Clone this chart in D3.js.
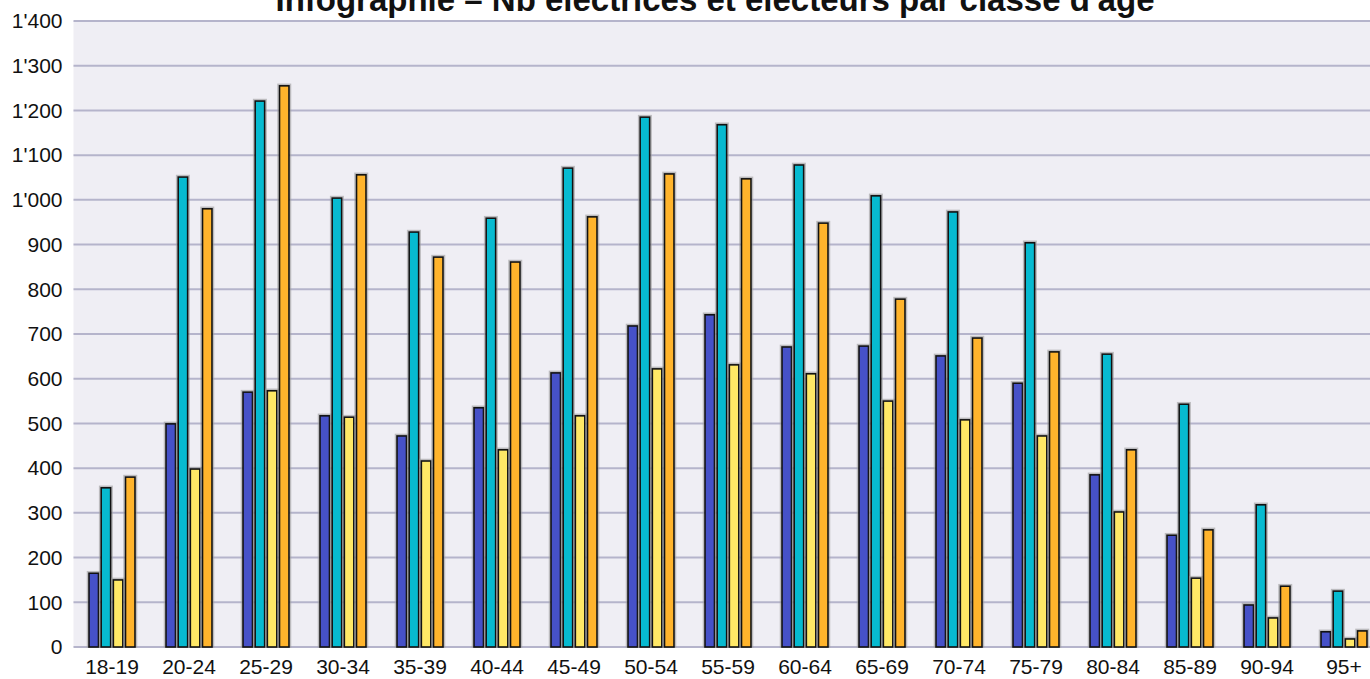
<!DOCTYPE html>
<html>
<head>
<meta charset="utf-8">
<script src="https://cdn.jsdelivr.net/npm/d3@7"></script>
<style>
  body { margin: 0; background: #ffffff; overflow: hidden; }
  svg { display: block; }
</style>
</head>
<body>
<svg id="chart"></svg>
<script>
const ageClasses = ["18-19", "20-24", "25-29", "30-34", "35-39", "40-44", "45-49", "50-54", "55-59",
    "60-64", "65-69", "70-74", "75-79", "80-84", "85-89", "90-94", "95+"];

const seriesBlue   = [165, 499, 570, 517, 472, 535, 613, 718, 743, 671, 673, 651, 590, 385, 250, 94, 34];
const seriesCyan   = [356, 1051, 1221, 1004, 928, 959, 1071, 1185, 1168, 1078, 1009, 973, 904, 655, 543, 318, 125];
const seriesYellow = [150, 398, 573, 514, 416, 441, 517, 622, 631, 611, 550, 508, 472, 302, 154, 65, 18];
const seriesOrange = [380, 980, 1255, 1056, 872, 861, 962, 1058, 1047, 948, 778, 691, 660, 441, 262, 136, 36];

const yTicks = [0, 100, 200, 300, 400, 500, 600, 700, 800, 900, 1000, 1100, 1200, 1300, 1400];

const titleText = "Infographie – Nb électrices et électeurs par classe d'âge";

const width = 1370;
const height = 679;
const margin = { top: 21, left: 73.5, bottom: 32 };
const bandStep = 77;

const svg = d3.select("#chart")
    .attr("width", width)
    .attr("height", height);

const series = [
    { key: "blue", values: seriesBlue, color: "#4651c8" },
    { key: "cyan", values: seriesCyan, color: "#07bad0" },
    { key: "yellow", values: seriesYellow, color: "#ffe866" },
    { key: "orange", values: seriesOrange, color: "#ffb42c" }
];

const x = d3.scaleBand()
    .domain(ageClasses)
    .range([margin.left, margin.left + bandStep * ageClasses.length])
    .paddingInner(0)
    .paddingOuter(0);

const xSub = d3.scaleBand()
    .domain(series.map(s => s.key))
    .range([x.bandwidth() / 2 - 23, x.bandwidth() / 2 + 23])
    .paddingInner(0.22);

const y = d3.scaleLinear()
    .domain([0, 1400])
    .range([647, margin.top]);

const chLocale = d3.formatLocale({ decimal: ".", thousands: "'", grouping: [3], currency: ["", ""] });
const fmt = chLocale.format(",d");

// plot background
svg.append("rect")
    .attr("x", margin.left)
    .attr("y", y(1400))
    .attr("width", width - margin.left)
    .attr("height", y(0) - y(1400))
    .attr("fill", "#efeef4");

// gridlines
svg.append("g")
    .selectAll("line")
    .data(yTicks)
    .join("line")
    .attr("x1", margin.left)
    .attr("x2", width)
    .attr("y1", d => y(d))
    .attr("y2", d => y(d))
    .attr("stroke", "#b5b4cb")
    .attr("stroke-width", 2);

// y axis labels
const yAxis = d3.axisLeft(y)
    .tickValues(yTicks)
    .tickFormat(fmt)
    .tickSize(0)
    .tickPadding(11);

svg.append("g")
    .attr("transform", `translate(${margin.left},0)`)
    .call(yAxis)
    .call(g => g.select(".domain").remove())
    .selectAll("text")
    .attr("font-family", "'Liberation Sans', Arial, sans-serif")
    .attr("font-size", 21)
    .attr("fill", "#111");

// x axis labels
const xAxis = d3.axisBottom(x)
    .tickSize(0)
    .tickPadding(12);

svg.append("g")
    .attr("transform", `translate(0,${y(0)})`)
    .call(xAxis)
    .call(g => g.select(".domain").remove())
    .selectAll("text")
    .attr("font-family", "'Liberation Sans', Arial, sans-serif")
    .attr("font-size", 21)
    .attr("fill", "#111");

// bars
const groups = svg.append("g")
    .selectAll("g")
    .data(ageClasses)
    .join("g")
    .attr("transform", d => `translate(${x(d)},0)`);

const bars = groups.selectAll("g")
    .data((d, i) => series.map(s => ({ key: s.key, color: s.color, value: s.values[i] })))
    .join("g");

// soft grey halo behind each bar
bars.append("rect")
    .attr("x", d => xSub(d.key) - 1.5)
    .attr("y", d => y(d.value) - 1.5)
    .attr("width", xSub.bandwidth() + 3)
    .attr("height", d => y(0) - y(d.value) + 1.5)
    .attr("fill", "none")
    .attr("stroke", "#999")
    .attr("stroke-opacity", 0.6)
    .attr("stroke-width", 1.5);

bars.append("rect")
    .attr("x", d => xSub(d.key))
    .attr("y", d => y(d.value))
    .attr("width", xSub.bandwidth())
    .attr("height", d => y(0) - y(d.value))
    .attr("fill", d => d.color)
    .attr("stroke", "#111")
    .attr("stroke-width", 1.6);

// title (its top is cut off by the frame, as in the source)
svg.append("text")
    .attr("x", 715)
    .attr("y", 11)
    .attr("text-anchor", "middle")
    .attr("font-family", "'Liberation Sans', Arial, sans-serif")
    .attr("font-weight", "bold")
    .attr("font-size", 33)
    .attr("fill", "#111")
    .text(titleText);
</script>
</body>
</html>
